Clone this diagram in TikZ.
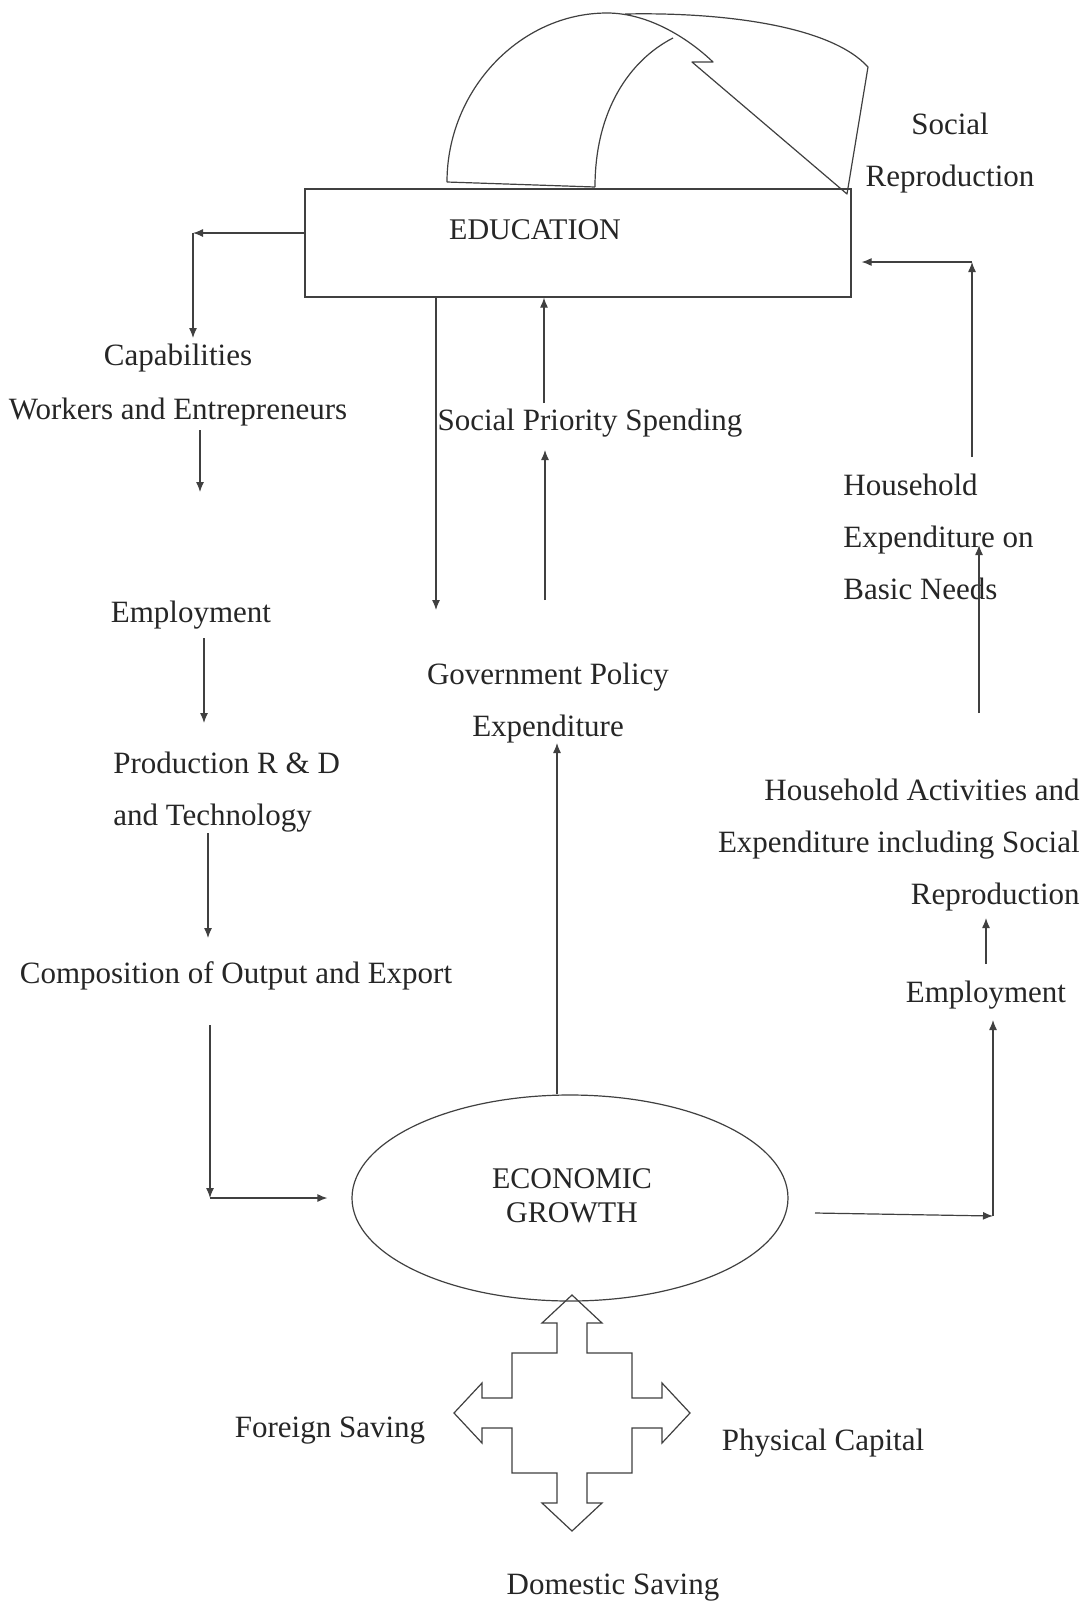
\documentclass[tikz,border=0pt]{standalone}
\usepackage{fontspec}
\setmainfont{Liberation Serif}
\usetikzlibrary{arrows.meta,shapes.geometric}
\begin{document}
\begin{tikzpicture}[x=0.5pt,y=-0.5pt,
  ink/.style={draw=black!75, line width=0.6pt},
  arr/.style={ink,-{Latex[length=5pt,width=4pt]}},
  lbl/.style={font=\fontsize{15.5}{26}\selectfont, text=black!85, inner sep=0pt},
  boxtxt/.style={font=\fontsize{15}{17}\selectfont, text=black!85, inner sep=0pt, align=center}]
\useasboundingbox (0,0) rectangle (1089,1608);
\fill[white] (0,0) rectangle (1089,1608);

% curved arrow (social reproduction)
\draw[ink, line join=round]
  (447,182) .. controls (447,90) and (520,13) .. (607,13)
            .. controls (650,13) and (690,40) .. (713,62)
  -- (692,62) -- (847,194) -- (868,67)
            .. controls (830,25) and (720,12) .. (625,14);
\draw[ink] (595,187) .. controls (595,110) and (630,60) .. (673,38);
\draw[ink] (447,182) -- (595,187);

\node[lbl, align=center] (soc) at (950,153) {Social\\Reproduction};

% education box
\node[ink, rectangle, minimum width=273pt, minimum height=54pt, inner sep=0pt] (edu) at (578,243) {};
\node[boxtxt] (edutxt) at (535,230) {EDUCATION};

% left column
\node[lbl] (cap) at (178,358) {Capabilities};
\node[lbl] (wrk) at (178,412) {Workers and Entrepreneurs};
\node[lbl] (emp1) at (191,615) {Employment};
\node[lbl, align=left, anchor=west] (prod) at (113,792) {Production R \& D\\and Technology};
\node[lbl] (comp) at (236,976) {Composition of Output and Export};

% centre
\node[ink, ellipse, minimum width=218pt, minimum height=103pt, inner sep=0pt] (eg) at (570,1198) {};
\node[boxtxt] (egtxt) at (572,1196) {ECONOMIC\\GROWTH};
\node[lbl, align=center] (gov) at (548,703) {Government Policy\\Expenditure};
\node[lbl] (sps) at (590,423) {Social Priority Spending};

% right column
\node[lbl, align=left, anchor=west] (hh) at (843,537) {Household\\Expenditure on\\Basic Needs};
\node[lbl, align=right, anchor=east] (hha) at (1080,845) {Household Activities and\\Expenditure including Social\\Reproduction};
\node[lbl] (emp2) at (986,995) {Employment};

% bottom
\node[lbl] (fs) at (330,1431) {Foreign Saving};
\node[lbl] (pc) at (823,1443) {Physical Capital};
\node[lbl] (ds) at (613,1588) {Domestic Saving};

\begin{scope}[shift={(572,1413)}]
\draw[ink, line join=miter]
 (0,-118) -- (30,-90) -- (15,-90) -- (15,-60) -- (60,-60) -- (60,-15) -- (90,-15) -- (90,-30)
 -- (118,0) -- (90,30) -- (90,15) -- (60,15) -- (60,60) -- (15,60) -- (15,90) -- (30,90)
 -- (0,118) -- (-30,90) -- (-15,90) -- (-15,60) -- (-60,60) -- (-60,15) -- (-90,15) -- (-90,30)
 -- (-118,0) -- (-90,-30) -- (-90,-15) -- (-60,-15) -- (-60,-60) -- (-15,-60) -- (-15,-90) -- (-30,-90) -- cycle;
\end{scope}

% connectors: left
\coordinate (cL) at (193,233);
\draw[arr] (cL -| edu.west) -- (cL);
\coordinate (capT) at (193,338);
\draw[arr] (cL) -- (capT);
\coordinate (w1) at (200,430);
\coordinate (w2) at (200,492);
\draw[arr] (w1) -- (w2);
\coordinate (e1) at (204,638);
\coordinate (e2) at (204,723);
\draw[arr] (e1) -- (e2);
\coordinate (p1) at (208,833);
\coordinate (p2) at (208,938);
\draw[arr] (p1) -- (p2);
\coordinate (c1) at (210,1025);
\coordinate (cC) at (210,1198);
\draw[arr] (c1) -- (cC);
\draw[arr, shorten >=12pt] (cC) -- (eg.west);

% centre connectors
\coordinate (g1) at (557,743);
\draw[arr] (eg.north -| g1) -- (g1);
\coordinate (d1) at (436,610);
\draw[arr] (edu.south -| d1) -- (d1);
\coordinate (s1) at (545,600);
\coordinate (s2) at (545,450);
\draw[arr] (s1) -- (s2);
\coordinate (s3) at (544,403);
\draw[arr] (s3) -- (s3 |- edu.south);

% right connectors
\coordinate (r1) at (972,457);
\coordinate (rC) at (972,262);
\draw[arr] (r1) -- (rC);
\draw[arr, shorten >=5pt] (rC) -- (rC -| edu.east);
\coordinate (h1) at (979,713);
\coordinate (h2) at (979,545);
\draw[arr] (h1) -- (h2);
\coordinate (m1) at (986,964);
\coordinate (m2) at (986,918);
\draw[arr] (m1) -- (m2);
\coordinate (x1) at (815,1213);
\coordinate (xC) at (993,1216);
\draw[arr] (x1) -- (xC);
\coordinate (xT) at (993,1020);
\draw[arr] (xC) -- (xT);
\end{tikzpicture}
\end{document}
